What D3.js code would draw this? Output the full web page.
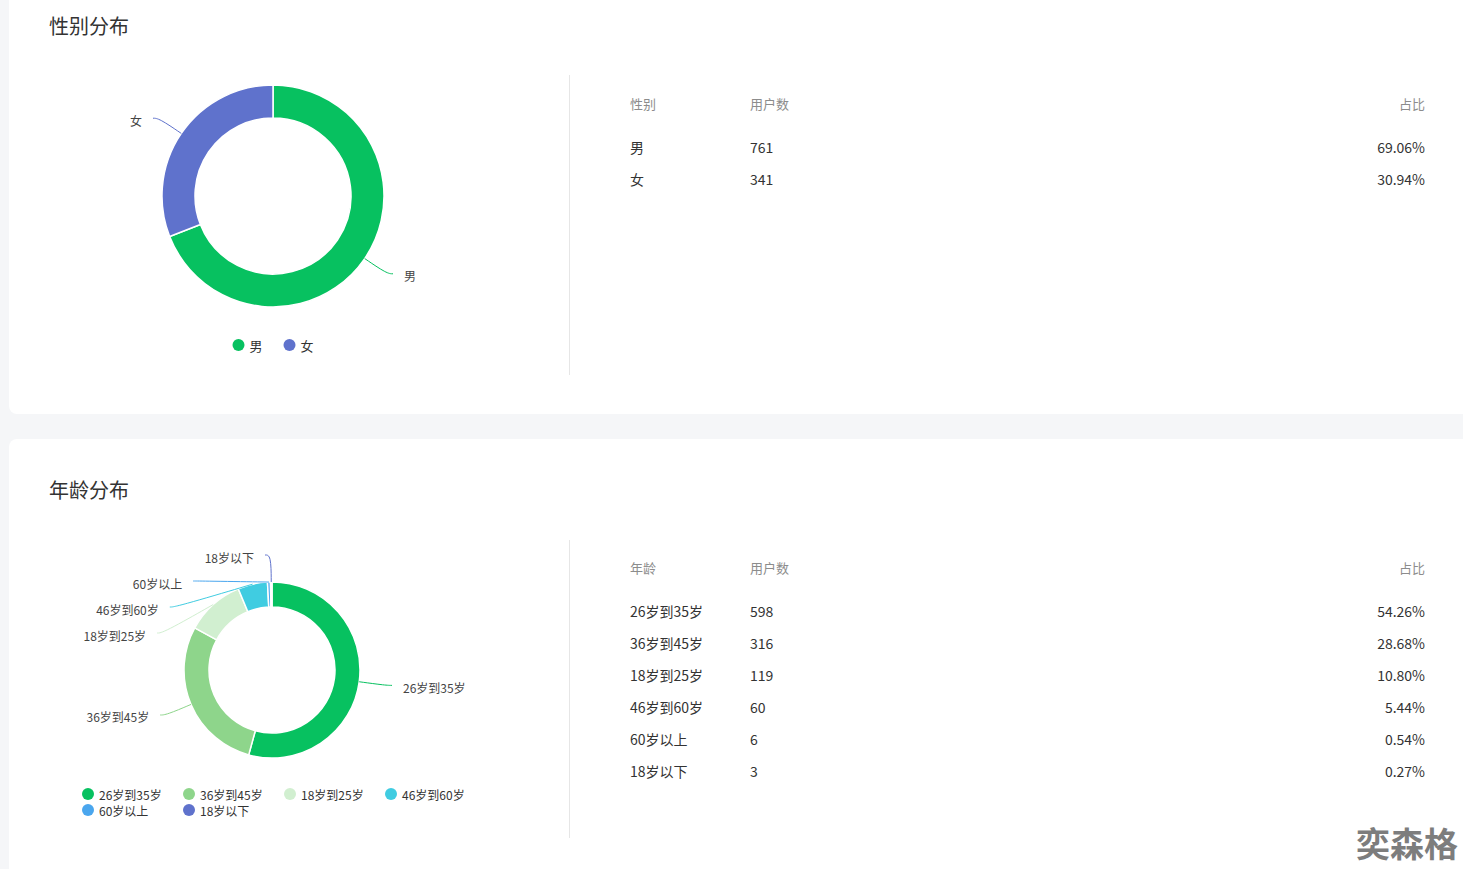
<!DOCTYPE html>
<html><head><meta charset="utf-8">
<script src="https://cdn.jsdelivr.net/npm/d3@7"></script>
<style>
html,body{margin:0;padding:0;background:#f5f6f8;overflow:hidden;}
svg{display:block;font-family:"Noto Sans CJK SC","Noto Sans",sans-serif;}
</style></head><body>
<svg id="c" width="1463" height="869"></svg>
<script>
// ---------- data ----------
const genderTitle = "性别分布";
const genderCategories = ["男", "女"];
const genderValues = [761, 341];
const genderColors = ["#07c160", "#5f72cc"];
const genderHeaders = ["性别", "用户数", "占比"];

const ageTitle = "年龄分布";
const ageCategories = ["26岁到35岁", "36岁到45岁", "18岁到25岁", "46岁到60岁", "60岁以上", "18岁以下"];
const ageValues = [598, 316, 119, 60, 6, 3];
const ageColors = ["#07c160", "#8ed58b", "#d1efd0", "#40cce1", "#4aa6ee", "#5f72cc"];
const ageHeaders = ["年龄", "用户数", "占比"];

const watermark = "奕森格";

// ---------- drawing ----------
const svg = d3.select("#c");

function drawSection(o) {
  const g = svg.append("g");
  g.append("rect").attr("x", 9).attr("y", o.cardY).attr("width", 1480).attr("height", o.cardH)
    .attr("rx", 8).attr("fill", "#fff");
  g.append("text").attr("x", 49).attr("y", o.titleY).attr("dominant-baseline", "central")
    .attr("font-size", 20).attr("fill", "#333").text(o.title);

  const total = d3.sum(o.values);
  const pie = d3.pie().sort(null).value(d => d)(o.values);
  const arc = d3.arc().innerRadius(o.r0).outerRadius(o.r);
  const color = d3.scaleOrdinal().domain(o.categories).range(o.colors);

  const pg = g.append("g").attr("transform", `translate(${o.cx},${o.cy})`);
  pg.selectAll("path").data(pie).join("path")
    .attr("d", arc).attr("fill", (d, i) => color(o.categories[i]))
    .attr("stroke", "#fff").attr("stroke-width", 1.5).attr("stroke-linejoin", "round");

  // labels with leader lines
  const R = o.r + 27, len2 = 6, gap = 26;
  const items = pie.map((a, i) => {
    const m = (a.startAngle + a.endAngle) / 2;
    return { i, m, dir: Math.sin(m) >= 0 ? 1 : -1,
      y0: o.cy - R * Math.cos(m),
      p0: [o.cx + o.r * Math.sin(m), o.cy - o.r * Math.cos(m)] };
  });
  [1, -1].forEach(dir => {
    const side = items.filter(d => d.dir === dir).sort((a, b) => a.y0 - b.y0);
    let prev = -Infinity;
    side.forEach(d => { d.y = Math.max(d.y0, prev + gap); prev = d.y; });
  });
  items.forEach(d => {
    const dy = Math.abs(d.y - o.cy);
    const dx = dy < R ? Math.sqrt(R * R - dy * dy) : 0;
    d.p1 = [o.cx + d.dir * dx, d.y];
    d.p2 = [d.p1[0] + d.dir * len2, d.y];
  });
  const line = d3.line().curve(d3.curveBasis);
  g.selectAll("path.ll").data(items).join("path").attr("class", "ll")
    .attr("d", d => line([d.p0, d.p1, d.p2])).attr("fill", "none")
    .attr("stroke", d => color(o.categories[d.i])).attr("stroke-width", 1);
  g.selectAll("text.lb").data(items).join("text").attr("class", "lb")
    .attr("x", d => d.p2[0] + d.dir * 11).attr("y", d => d.y + 2)
    .attr("text-anchor", d => d.dir > 0 ? "start" : "end")
    .attr("dominant-baseline", "central").attr("font-size", 12).attr("fill", "#444")
    .text(d => o.categories[d.i]);

  // legend
  const lg = g.append("g");
  if (o.legendCentered) {
    const items2 = lg.selectAll("g").data(o.categories).join("g");
    items2.append("circle").attr("r", 6).attr("cx", 6).attr("cy", 0).attr("fill", d => color(d));
    const tx = items2.append("text").attr("x", 17).attr("y", 0).attr("dominant-baseline", "central")
      .attr("font-size", 13).attr("fill", "#333").text(d => d);
    let x = 0;
    const pos = [];
    tx.each(function () { pos.push(x); x += 17 + this.getComputedTextLength() + 21; });
    const w = x - 21;
    items2.attr("transform", (d, i) => `translate(${o.cx - w / 2 + pos[i]},${o.legendY})`);
  } else {
    const items2 = lg.selectAll("g").data(o.categories).join("g")
      .attr("transform", (d, i) => `translate(${o.legendX + (i % 4) * 101},${o.legendY + Math.floor(i / 4) * 16})`);
    items2.append("circle").attr("r", 6).attr("cx", 6).attr("cy", 0).attr("fill", d => color(d));
    items2.append("text").attr("x", 17).attr("y", 0).attr("dominant-baseline", "central")
      .attr("font-size", 12).attr("fill", "#333").text(d => d);
  }

  // divider
  g.append("line").attr("x1", 569.5).attr("x2", 569.5).attr("y1", o.divY1).attr("y2", o.divY2)
    .attr("stroke", "#e6e6e6").attr("stroke-width", 1);

  // table
  const colX = [630, 750, 1425];
  const tg = g.append("g");
  tg.selectAll("text.h").data(o.headers).join("text").attr("class", "h")
    .attr("x", (d, i) => colX[i]).attr("y", o.headerY).attr("dominant-baseline", "central")
    .attr("text-anchor", (d, i) => i === 2 ? "end" : "start")
    .attr("font-size", 13).attr("fill", "#8c8c8c").text(d => d);
  const rows = o.categories.map((c, i) => [c, String(o.values[i]), (o.values[i] / total * 100).toFixed(2) + "%"]);
  rows.forEach((row, ri) => {
    tg.selectAll(null).data(row).join("text")
      .attr("x", (d, i) => colX[i]).attr("y", o.headerY + 44 + ri * 32).attr("dominant-baseline", "central")
      .attr("text-anchor", (d, i) => i === 2 ? "end" : "start")
      .attr("font-size", 14).attr("fill", "#333").text(d => d);
  });
}

drawSection({
  cardY: -20, cardH: 434, title: genderTitle, titleY: 25,
  cx: 273, cy: 196, r: 111, r0: 78,
  categories: genderCategories, values: genderValues, colors: genderColors,
  legendCentered: true, legendY: 345,
  divY1: 75, divY2: 375, headers: genderHeaders, headerY: 103
});
drawSection({
  cardY: 439, cardH: 460, title: ageTitle, titleY: 489,
  cx: 272, cy: 670, r: 88, r0: 63,
  categories: ageCategories, values: ageValues, colors: ageColors,
  legendCentered: false, legendX: 82, legendY: 794,
  divY1: 540, divY2: 838, headers: ageHeaders, headerY: 567
});

svg.append("text").attr("x", 1458).attr("y", 842).attr("text-anchor", "end")
  .attr("dominant-baseline", "central")
  .attr("font-size", 34).attr("font-weight", "bold").attr("fill", "#707070").attr("opacity", 0.9)
  .text(watermark);
</script>
</body></html>
